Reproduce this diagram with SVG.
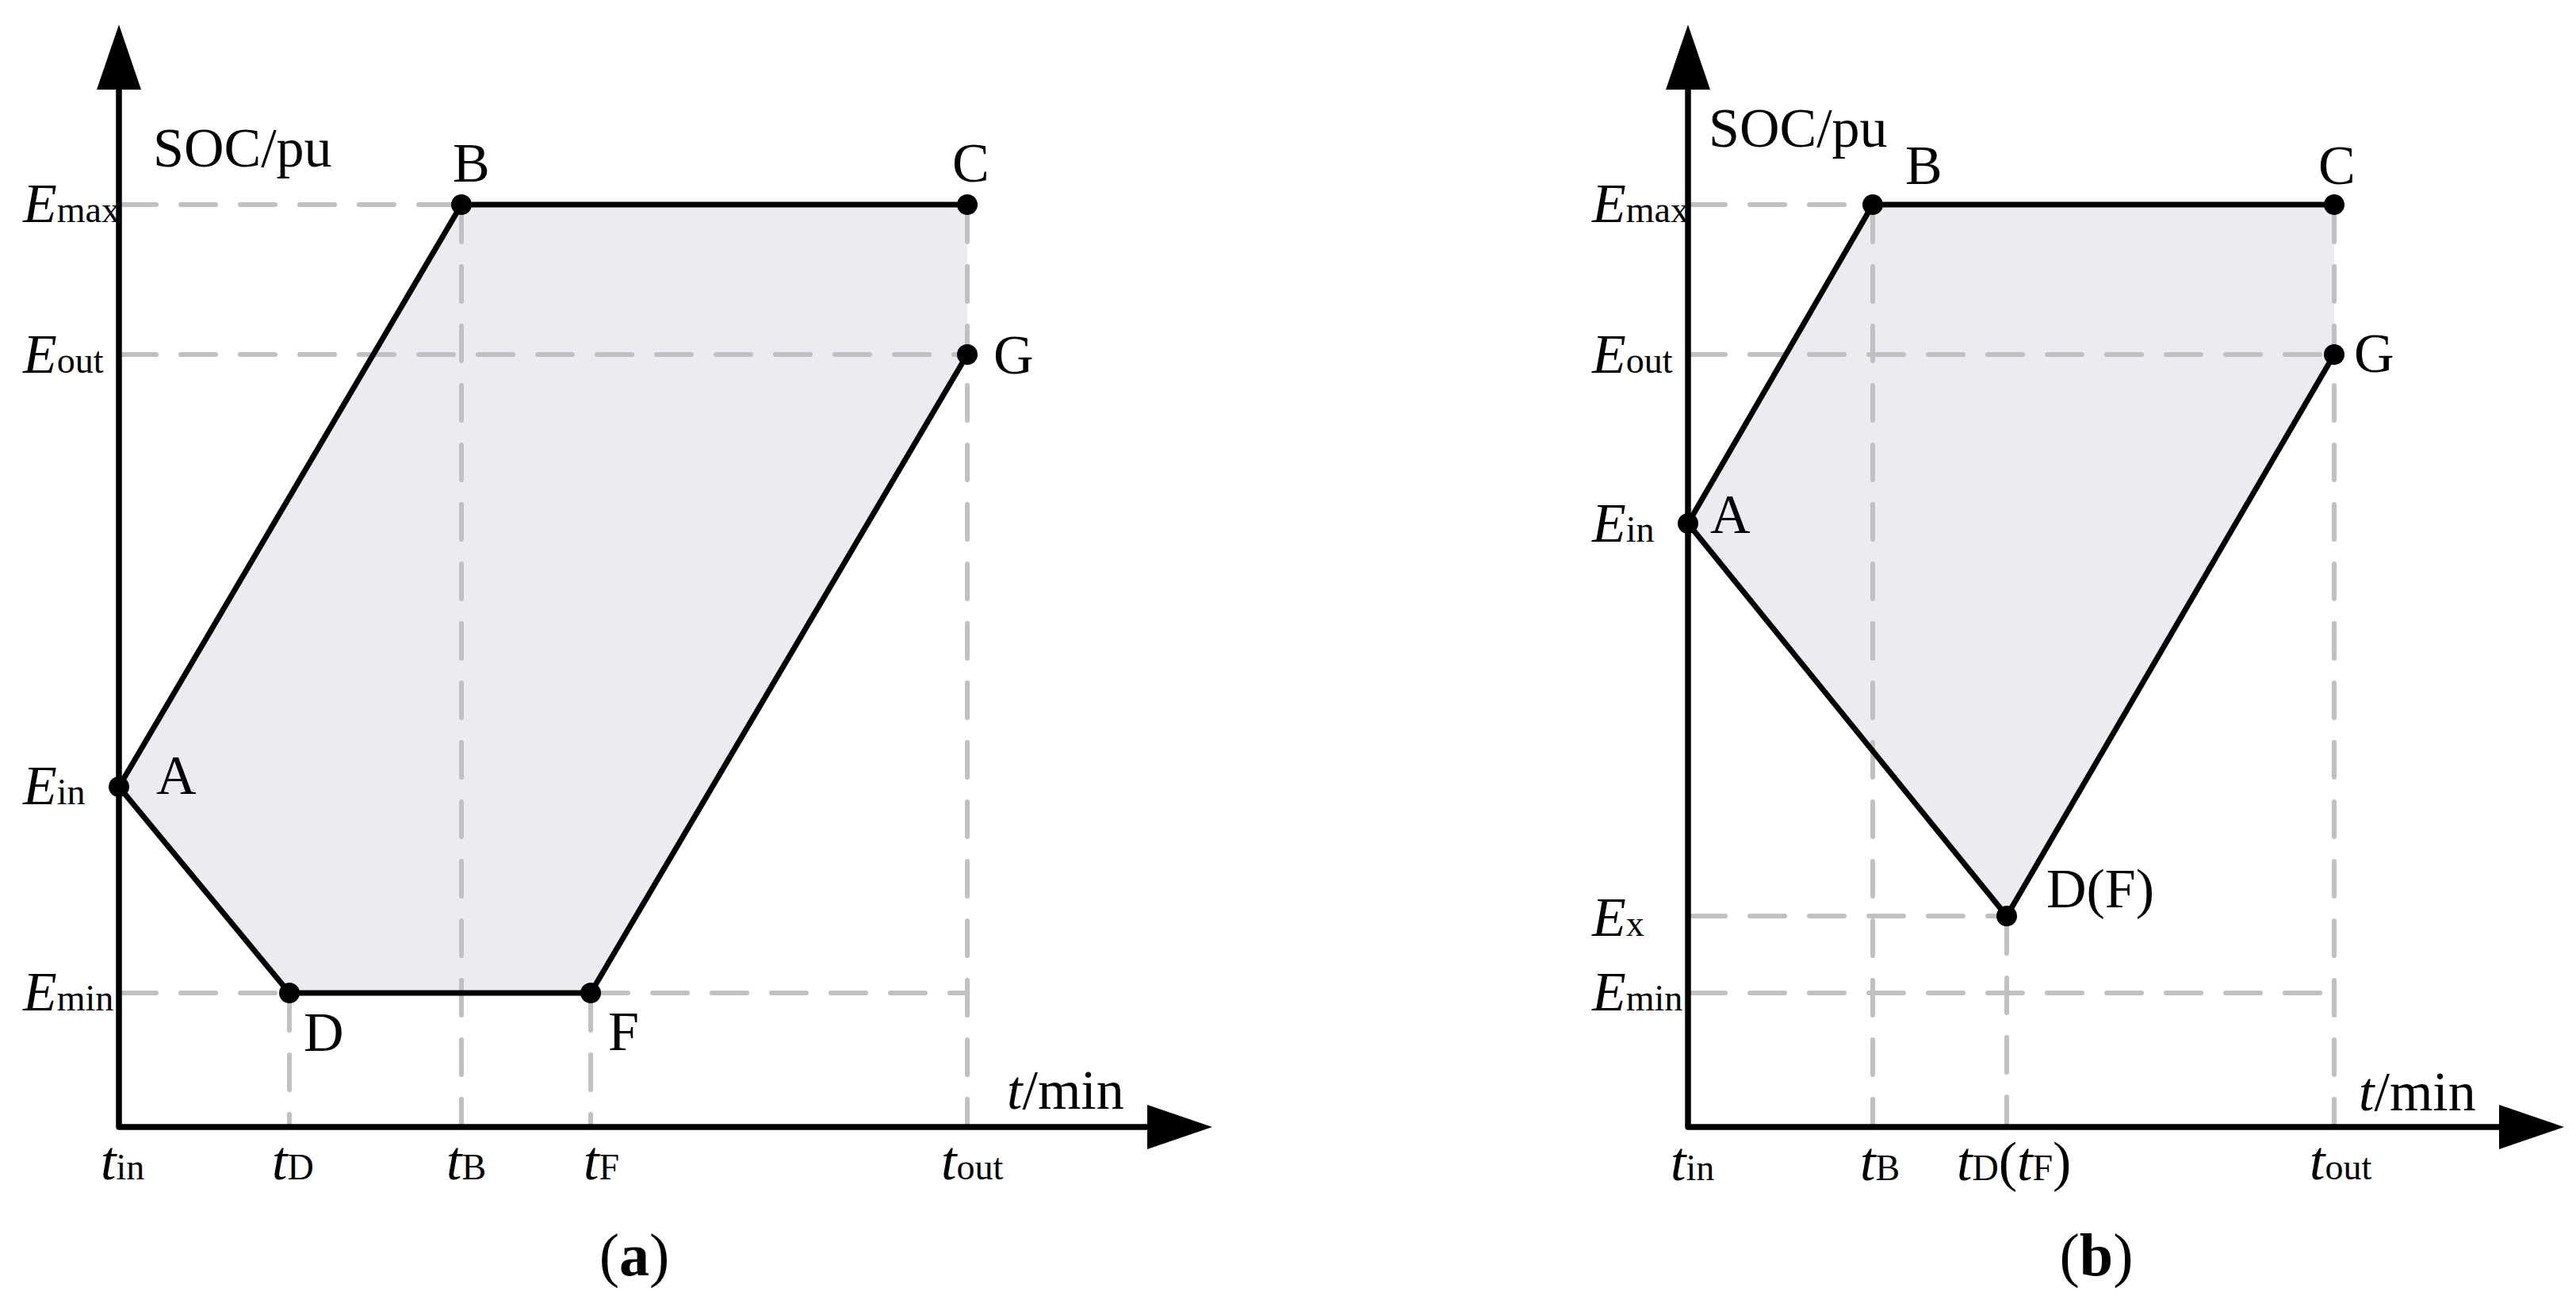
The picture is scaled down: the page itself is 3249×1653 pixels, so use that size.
<svg xmlns="http://www.w3.org/2000/svg" width="3249" height="1653" viewBox="0 0 3249 1653">
<style>
.bg{fill:#FFFFFF}
.region{fill:#EEEAF2;stroke:none}
.dash{fill:none;stroke:#C0C0C0;stroke-width:6;stroke-dasharray:44 31;stroke-linecap:round}
.edge{fill:none;stroke:#000;stroke-width:7;stroke-linejoin:round;stroke-linecap:round}
.axis{fill:none;stroke:#000;stroke-width:7.5;stroke-linejoin:round;marker-start:url(#arr);marker-end:url(#arr)}
.dot{fill:#000}
text{font-family:"Liberation Serif","Times New Roman",serif;font-size:70px;fill:#000}
.it{font-style:italic}
.sub{font-size:46px;font-style:normal}
.cap{font-size:76px}
.b{font-weight:bold}
</style>
<defs>
<marker id="arr" viewBox="0 0 82 56" refX="0" refY="28" markerWidth="82" markerHeight="56" markerUnits="userSpaceOnUse" orient="auto-start-reverse">
<path d="M0,0 L82,28 L0,56 Z" fill="#000"/>
</marker>
</defs>
<rect class="bg" x="0" y="0" width="3249" height="1653"/>

<!-- Panel (a) -->
<g id="panel-a">
<polygon class="region" points="150,992 582,258 1220,258 1220,447 745,1252 365,1252"/>
<g id="guides-a">
<line class="dash" x1="153" y1="258" x2="579" y2="258"/>
<line class="dash" x1="153" y1="447" x2="1217" y2="447"/>
<line class="dash" x1="153" y1="1252" x2="362" y2="1252"/>
<line class="dash" x1="748" y1="1252" x2="1220" y2="1252"/>
<line class="dash" x1="582" y1="261" x2="582" y2="1418"/>
<line class="dash" x1="1220" y1="261" x2="1220" y2="1418"/>
<line class="dash" x1="365" y1="1255" x2="365" y2="1418"/>
<line class="dash" x1="745" y1="1255" x2="745" y2="1418"/>
</g>
<g id="axes-a">
<path class="axis" d="M150,113 V1421 H1447"/>
<text x="193" y="210">SOC/pu</text>
<text x="1270" y="1398"><tspan class="it">t</tspan>/min</text>
</g>
<g id="connectors-a">
<polyline class="edge" points="150,992 582,258 1220,258"/>
<polyline class="edge" points="1220,447 745,1252 365,1252 150,992"/>
</g>
<g id="node-a-A"><circle class="dot" cx="150" cy="992" r="13"/><text x="197" y="1001">A</text></g>
<g id="node-a-B"><circle class="dot" cx="582" cy="258" r="13"/><text x="571" y="229">B</text></g>
<g id="node-a-C"><circle class="dot" cx="1220" cy="258" r="13"/><text x="1201" y="229">C</text></g>
<g id="node-a-G"><circle class="dot" cx="1220" cy="447" r="13"/><text x="1253" y="471">G</text></g>
<g id="node-a-D"><circle class="dot" cx="365" cy="1252" r="13"/><text x="383" y="1325">D</text></g>
<g id="node-a-F"><circle class="dot" cx="745" cy="1252" r="13"/><text x="767" y="1324">F</text></g>
<g id="ylabels-a">
<text x="29" y="280"><tspan class="it">E</tspan><tspan class="sub">max</tspan></text>
<text x="29" y="470"><tspan class="it">E</tspan><tspan class="sub">out</tspan></text>
<text x="29" y="1014"><tspan class="it">E</tspan><tspan class="sub">in</tspan></text>
<text x="29" y="1274"><tspan class="it">E</tspan><tspan class="sub">min</tspan></text>
</g>
<g id="xlabels-a">
<text x="127" y="1487"><tspan class="it">t</tspan><tspan class="sub">in</tspan></text>
<text x="343" y="1487"><tspan class="it">t</tspan><tspan class="sub">D</tspan></text>
<text x="563" y="1487"><tspan class="it">t</tspan><tspan class="sub">B</tspan></text>
<text x="736" y="1487"><tspan class="it">t</tspan><tspan class="sub">F</tspan></text>
<text x="1187" y="1487"><tspan class="it">t</tspan><tspan class="sub">out</tspan></text>
</g>
<text class="cap" x="800" y="1608" text-anchor="middle">(<tspan class="b">a</tspan>)</text>
</g>

<!-- Panel (b) -->
<g id="panel-b">
<polygon class="region" points="2129,660 2362,258 2944,258 2944,447 2531,1155"/>
<g id="guides-b">
<line class="dash" x1="2132" y1="258" x2="2359" y2="258"/>
<line class="dash" x1="2132" y1="447" x2="2941" y2="447"/>
<line class="dash" x1="2132" y1="1155" x2="2528" y2="1155"/>
<line class="dash" x1="2132" y1="1252" x2="2944" y2="1252"/>
<line class="dash" x1="2362" y1="261" x2="2362" y2="1418"/>
<line class="dash" x1="2531" y1="1158" x2="2531" y2="1418"/>
<line class="dash" x1="2944" y1="261" x2="2944" y2="1418"/>
</g>
<g id="axes-b">
<path class="axis" d="M2129,113 V1421 H3152"/>
<text x="2155" y="185">SOC/pu</text>
<text x="2975" y="1400"><tspan class="it">t</tspan>/min</text>
</g>
<g id="connectors-b">
<polyline class="edge" points="2129,660 2362,258 2944,258"/>
<polyline class="edge" points="2944,447 2531,1155 2129,660"/>
</g>
<g id="node-b-A"><circle class="dot" cx="2129" cy="660" r="13"/><text x="2157" y="672">A</text></g>
<g id="node-b-B"><circle class="dot" cx="2362" cy="258" r="13"/><text x="2403" y="232">B</text></g>
<g id="node-b-C"><circle class="dot" cx="2944" cy="258" r="13"/><text x="2924" y="232">C</text></g>
<g id="node-b-G"><circle class="dot" cx="2944" cy="447" r="13"/><text x="2969" y="469">G</text></g>
<g id="node-b-DF"><circle class="dot" cx="2531" cy="1155" r="13"/><text x="2581" y="1144">D(F)</text></g>
<g id="ylabels-b">
<text x="2008" y="280"><tspan class="it">E</tspan><tspan class="sub">max</tspan></text>
<text x="2008" y="470"><tspan class="it">E</tspan><tspan class="sub">out</tspan></text>
<text x="2008" y="683"><tspan class="it">E</tspan><tspan class="sub">in</tspan></text>
<text x="2008" y="1180"><tspan class="it">E</tspan><tspan class="sub">x</tspan></text>
<text x="2008" y="1274"><tspan class="it">E</tspan><tspan class="sub">min</tspan></text>
</g>
<g id="xlabels-b">
<text x="2107" y="1488"><tspan class="it">t</tspan><tspan class="sub">in</tspan></text>
<text x="2346" y="1488"><tspan class="it">t</tspan><tspan class="sub">B</tspan></text>
<text x="2468" y="1488"><tspan class="it">t</tspan><tspan class="sub">D</tspan>(<tspan class="it">t</tspan><tspan class="sub">F</tspan>)</text>
<text x="2913" y="1487"><tspan class="it">t</tspan><tspan class="sub">out</tspan></text>
</g>
<text class="cap" x="2644" y="1608" text-anchor="middle">(<tspan class="b">b</tspan>)</text>
</g>
</svg>
